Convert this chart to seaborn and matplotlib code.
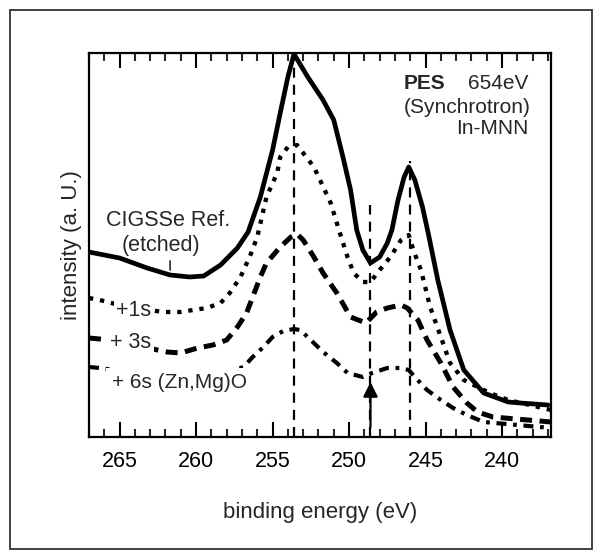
import numpy as np
import pandas as pd
import matplotlib
matplotlib.use("Agg")
import matplotlib.pyplot as plt
from matplotlib.patches import Rectangle
import seaborn as sns

# ---------------- data ----------------
# binding energy (eV) and intensity (a.u.) for each spectrum
ref_energy = [267.0, 266.0, 265.0, 263.2, 261.7, 260.4, 259.5, 258.4, 257.3, 256.6,
              255.8, 255.0, 254.5, 254.0, 253.6, 252.7, 251.7, 251.0, 250.4, 249.9,
              249.5, 249.1, 248.6, 248.0, 247.5, 247.2, 246.8, 246.4, 246.1, 245.7,
              245.2, 244.8, 244.2, 243.4, 242.5, 241.2, 239.6, 238.8, 237.0]
ref_intensity = [185, 182, 179, 169, 162, 160, 161, 172, 189, 205,
                 240, 287, 324, 360, 383, 360, 337, 317, 280, 247,
                 207, 187, 174, 180, 194, 207, 237, 260, 270, 257,
                 230, 202, 157, 107, 67, 44, 35, 34, 32]

s1_energy = [267.0, 266.3, 265.0, 262.2, 261.0, 260.2, 259.3, 258.4, 257.8, 257.1,
             256.5, 256.0, 255.4, 254.7, 254.5, 254.0, 253.4, 253.0, 252.3, 251.9,
             251.2, 250.6, 250.1, 249.7, 249.1, 248.6, 248.0, 247.3, 246.6, 246.1,
             245.8, 245.3, 244.7, 244.0, 243.4, 242.5, 241.6, 240.8, 239.6, 236.8]
s1_intensity = [139, 137, 132, 125, 125, 127, 129, 134, 144, 160,
                180, 200, 240, 264, 280, 290, 292, 284, 270, 257,
                234, 204, 180, 164, 155, 155, 167, 180, 197, 202,
                187, 167, 130, 100, 74, 57, 50, 44, 37, 27]

s3_energy = [267.0, 265.6, 261.9, 261.0, 259.9, 258.9, 258.0, 257.3, 256.7, 256.3,
             255.8, 255.4, 254.5, 253.8, 253.4, 253.0, 252.3, 251.7, 250.8, 249.9,
             248.9, 248.2, 247.5, 246.6, 246.2, 245.5, 244.9, 244.0, 243.2, 242.3,
             241.6, 240.6, 236.8]
s3_intensity = [99, 97, 85, 84, 89, 92, 97, 110, 124, 140,
                160, 174, 190, 200, 203, 197, 180, 164, 144, 120,
                114, 125, 129, 132, 129, 117, 97, 74, 50, 34,
                25, 20, 15]

s6_energy = [267.0, 266.3, 264.3, 262.4, 260.4, 258.4, 256.9, 256.3, 255.6, 255.0,
             254.3, 253.6, 253.2, 252.5, 251.7, 250.8, 250.1, 249.1, 248.5, 247.5,
             246.6, 246.1, 245.7, 244.9, 244.0, 243.2, 242.3, 241.2, 236.8]
s6_intensity = [70, 69, 65, 61, 60, 63, 70, 80, 90, 100,
                106, 108, 107, 97, 85, 74, 64, 60, 64, 69,
                69, 67, 60, 47, 37, 29, 22, 15, 9]

peak_positions = [253.6, 248.6, 246.0]
peak_line_tops = [1.0, 0.604, 0.72]
x_ticks = [265, 260, 255, 250, 245, 240]

# ---------------- style ----------------
sns.set_theme(style="ticks")
plt.rcParams["font.family"] = ["Liberation Sans", "DejaVu Sans"]

fig = plt.figure(figsize=(6.02, 5.59), dpi=100)
ax = fig.add_axes([89/602, 122/559, 462/602, 384/559])

sns.lineplot(x=ref_energy, y=ref_intensity, ax=ax, sort=False, estimator=None,
             color="black", lw=3.4, solid_capstyle="round")
l1 = sns.lineplot(x=s1_energy, y=s1_intensity, ax=ax, sort=False, estimator=None,
                  color="black", lw=3.1).lines[-1]
l1.set_linestyle((0, (1.0, 1.6)))
l3 = sns.lineplot(x=s3_energy, y=s3_intensity, ax=ax, sort=False, estimator=None,
                  color="black", lw=3.6).lines[-1]
l3.set_linestyle((0, (2.4, 1.5)))
l6 = sns.lineplot(x=s6_energy, y=s6_intensity, ax=ax, sort=False, estimator=None,
                  color="black", lw=3.0).lines[-1]
l6.set_linestyle((0, (2.4, 1.6, 0.9, 1.6)))

for xp, top in zip(peak_positions, peak_line_tops):
    ax.axvline(xp, ymin=0, ymax=top, color="black", lw=1.6,
               linestyle=(0, (4.5, 3.2)), zorder=1)

# arrow marking the new feature
ax.annotate("", xy=(peak_positions[1], 55), xytext=(peak_positions[1], 10),
            arrowprops=dict(arrowstyle="-|>", color="black", lw=1.6,
                            mutation_scale=22, shrinkA=0, shrinkB=0))

ax.set_xlim(267, 236.8)
ax.set_ylim(0, 384)
ax.set_xticks(x_ticks)
ax.set_xticks(np.arange(237, 268, 1), minor=True)
ax.set_yticks([])
ax.tick_params(axis="x", which="major", direction="in", length=11, width=1.5,
               top=True, bottom=True, labelsize=15.5, pad=10, colors="black")
ax.tick_params(axis="x", which="minor", direction="in", length=6, width=1.5,
               top=True, bottom=True)
for sp in ax.spines.values():
    sp.set_visible(True)
    sp.set_linewidth(1.6)
    sp.set_color("black")

ax.set_xlabel("binding energy (eV)", fontsize=16, labelpad=22)
ax.set_ylabel("intensity (a. U.)", fontsize=16, labelpad=5)

# text annotations
fs = 15.5
box = dict(facecolor="white", edgecolor="none", pad=1.5)
ax.text(261.8, 217, "CIGSSe Ref.", fontsize=fs, ha="center", va="center")
ax.text(262.3, 192, "(etched)", fontsize=fs, ha="center", va="center")
ax.annotate("", xy=(261.7, 164), xytext=(261.7, 179),
            arrowprops=dict(arrowstyle="-", color="black", lw=1.0))
ax.text(265.25, 127, "+1s", fontsize=fs, ha="left", va="center", bbox=box, zorder=5)
ax.text(265.6, 94, "+ 3s", fontsize=fs, ha="left", va="center", bbox=box, zorder=5)
ax.text(265.5, 54, "+ 6s (Zn,Mg)O", fontsize=15, ha="left", va="center",
        bbox=dict(facecolor="white", edgecolor="none", pad=4), zorder=5)

ax.text(246.45, 354, "PES", fontsize=15, fontweight="bold", ha="left", va="center")
ax.text(238.3, 354, "654eV", fontsize=15, ha="right", va="center")
ax.text(238.1, 330, "(Synchrotron)", fontsize=15, ha="right", va="center")
ax.text(238.3, 309, "In-MNN", fontsize=15, ha="right", va="center")

# outer frame of the figure
fig.add_artist(Rectangle((10/602, 10/559), 582/602, 539/559, transform=fig.transFigure,
                         fill=False, lw=1.3, edgecolor="#333333"))

fig.savefig("out.png", dpi=100)
